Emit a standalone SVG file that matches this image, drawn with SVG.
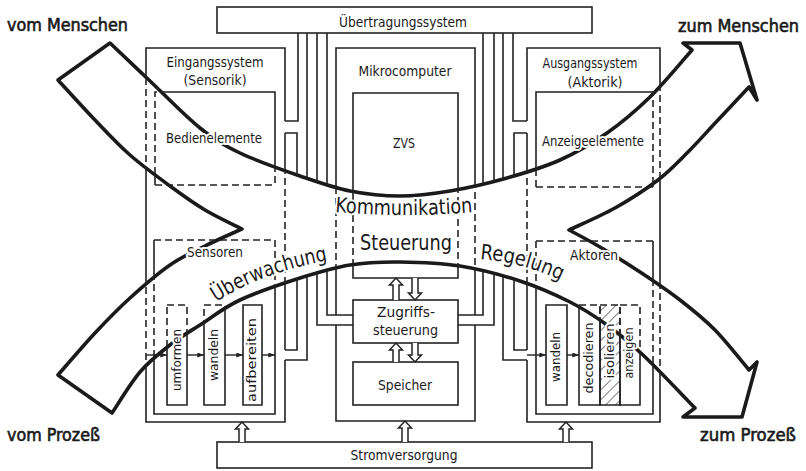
<svg xmlns="http://www.w3.org/2000/svg" width="806" height="471" viewBox="0 0 806 471">
<style>
  .w{fill:none;stroke:#222;stroke-width:1.6}
  .d{stroke-dasharray:7 4}
  .bus{fill:none;stroke:#222;stroke-width:1.6}
  .ho{fill:#fff;stroke:#222;stroke-width:1.5;stroke-linejoin:miter}
  .sm{fill:none;stroke:#222;stroke-width:1.4;marker-end:url(#ah)}
  .flow{fill:none;stroke:#1a1a1a;stroke-width:3.6;stroke-linejoin:round}
  text{font-family:"DejaVu Sans Condensed","Liberation Sans Narrow","Liberation Sans",sans-serif;fill:#1a1a1a;font-size:14px}
  .h{paint-order:stroke;stroke:#fff;stroke-width:4;stroke-linejoin:round}
  .c{text-anchor:middle}
  .big{font-size:21px}
  .corner{font-size:18px;stroke:#1a1a1a;stroke-width:0.6}
  .v{font-size:13px;text-anchor:middle}
</style>
<defs>
  <!-- outline of the two crossing flow arrows (union) -->
  <path id="arrowShape" d="M110,43 C116.7,49.3 135,66.8 150,81 C165,95.2 185,116 200,128 C215,140 223.3,145 240,153 C256.7,161 281.7,169.7 300,176 C318.3,182.3 333.3,187.7 350,191 C366.7,194.3 383.3,196 400,196 C416.7,196 432.2,194 450,191 C467.8,188 488.7,183.2 507,178 C525.3,172.8 543.3,167.5 560,160 C576.7,152.5 592,143.5 607,133 C622,122.5 635.8,110.8 650,97 C664.2,83.2 685,57.8 692,50 L683,43 L740,43 L757,100 L749,87 C743.8,92.5 728.2,109.2 718,120 C707.8,130.8 698,142 688,152 C678,162 670.2,170.7 658,180 C645.8,189.3 629.8,199.7 615,208 C600.2,216.3 576.7,226.3 569,230 C574.2,232.8 588.2,240 600,247 C611.8,254 626.7,263.2 640,272 C653.3,280.8 667.5,290.3 680,300 C692.5,309.7 703.5,318.3 715,330 C726.5,341.7 743.3,363.3 749,370 L757,362 L742,417 L683,417 L695,408 C686.3,399.2 657.7,368.8 643,355 C628.3,341.2 619.2,333.8 607,325 C594.8,316.2 584.5,309.3 570,302 C555.5,294.7 538.3,287 520,281 C501.7,275 480,269.2 460,266 C440,262.8 418.3,262.2 400,262 C381.7,261.8 366.7,262.3 350,265 C333.3,267.7 318.3,272.2 300,278 C281.7,283.8 256.7,292.2 240,300 C223.3,307.8 211.7,317.5 200,325 C188.3,332.5 180,337.2 170,345 C160,352.8 149.7,360.7 140,372 C130.3,383.3 116.7,406.2 112,413 L58,375 C64.2,368 83,345.8 95,333 C107,320.2 117.5,309.3 130,298 C142.5,286.7 157.5,273.7 170,265 C182.5,256.3 193,252 205,246 C217,240 235.8,231.8 242,229 C235.8,225.8 217,217.2 205,210 C193,202.8 182.5,195.2 170,186 C157.5,176.8 142.5,166 130,155 C117.5,144 107,132.5 95,120 C83,107.5 64.2,86.7 58,80 Z"/>
  <clipPath id="inside" clipPathUnits="userSpaceOnUse"><use href="#arrowShape"/></clipPath>
  <mask id="outside" maskUnits="userSpaceOnUse" x="0" y="0" width="806" height="471">
    <rect width="806" height="471" fill="#fff"/>
    <use href="#arrowShape" fill="#000"/>
  </mask>
  <marker id="ah" viewBox="0 0 8 6" refX="8" refY="3" markerWidth="7" markerHeight="5" orient="auto" markerUnits="userSpaceOnUse">
    <path d="M0,0 L8,3 L0,6 Z" fill="#222"/>
  </marker>
  <pattern id="hatch" patternUnits="userSpaceOnUse" width="7" height="7" patternTransform="rotate(45)">
    <line x1="0" y1="0" x2="0" y2="7" stroke="#222" stroke-width="1.2"/>
  </pattern>
  <!-- wall outlines: solid outside the flow arrows, dashed inside -->
  <path id="w-ein" d="M285,121 V48 H146 V422 H285 V360 M285,350 V133"/>
  <path id="w-bed" d="M155,185 V92 H275 V185"/>
  <path id="w-sen" d="M154,240 V414 H275 V240"/>
  <path id="w-umf" d="M167,305 H187 V405 H167 Z"/>
  <path id="w-wanL" d="M204,305 H225 V405 H204 Z"/>
  <path id="w-auf" d="M243,305 H262 V405 H243 Z"/>
  <path id="w-mik" d="M336,315 V48 H475 V315 M475,325 V421 H336 V325"/>
  <path id="w-zvs" d="M353,93 H458 V278 H353 Z"/>
  <path id="w-aus" d="M527,121 V48 H660 V422 H527 V360 M527,350 V133"/>
  <path id="w-anz" d="M536,187 V92 H653 V187"/>
  <path id="w-akt" d="M536,241 V414 H653 V241"/>
  <path id="w-wanR" d="M546,305 H567 V405 H546 Z"/>
  <path id="w-dec" d="M579,305 H600 V405 H579 Z"/>
  <path id="w-iso" d="M600,305 H620 V405 H600 Z"/>
  <path id="w-anzg" d="M620,305 H640 V405 H620 Z"/>
  <path id="tp-ueb" d="M216,302 Q266,270 337,259"/>
  <path id="tp-reg" d="M480,259 Q522,262 562,281"/>
  <path id="tp-kom" d="M335,212 Q404,218 474,212"/>
</defs>

<rect width="806" height="471" fill="#fff"/>

<!-- flow arrows: vom Menschen -> zum Prozess, vom Prozess -> zum Menschen -->
<g id="flow">
  <use href="#arrowShape" class="flow"/>
</g>

<g id="uebertragungssystem">
  <rect class="w" x="217" y="7" width="375" height="26"/>
  <text class="h c" x="403" y="27" font-size="15" textLength="128" lengthAdjust="spacingAndGlyphs">Übertragungssystem</text>
</g>

<g id="stromversorgung">
  <rect class="w" x="217" y="442" width="375" height="26"/>
  <text class="h c" x="404" y="460" font-size="15" textLength="107" lengthAdjust="spacingAndGlyphs">Stromversorgung</text>
</g>

<g id="eingangssystem">
  <use href="#w-ein" class="w" mask="url(#outside)"/>
  <use href="#w-ein" class="w d" clip-path="url(#inside)"/>
  <text class="h c" x="215" y="67" textLength="97" lengthAdjust="spacingAndGlyphs">Eingangssystem</text>
  <text class="h c" x="215" y="85" textLength="63" lengthAdjust="spacingAndGlyphs">(Sensorik)</text>
  <g id="bedienelemente">
    <use href="#w-bed" class="w" mask="url(#outside)"/>
    <use href="#w-bed" class="w d" clip-path="url(#inside)"/>
    <path class="w d" d="M155,185 H275"/>
    <text class="h c" x="214" y="143" textLength="96" lengthAdjust="spacingAndGlyphs">Bedienelemente</text>
  </g>
  <g id="sensoren">
    <use href="#w-sen" class="w" mask="url(#outside)"/>
    <use href="#w-sen" class="w d" clip-path="url(#inside)"/>
    <path class="w d" d="M154,240 H275"/>
    <text class="h c" x="215" y="257" textLength="56" lengthAdjust="spacingAndGlyphs">Sensoren</text>
  </g>
  <g id="umformen">
    <use href="#w-umf" class="w" mask="url(#outside)"/>
    <use href="#w-umf" class="w d" clip-path="url(#inside)"/>
    <text class="h v" transform="translate(181,360) rotate(-90)" textLength="62" lengthAdjust="spacingAndGlyphs">umformen</text>
  </g>
  <g id="wandeln-ein">
    <use href="#w-wanL" class="w" mask="url(#outside)"/>
    <use href="#w-wanL" class="w d" clip-path="url(#inside)"/>
    <text class="h v" transform="translate(218,355) rotate(-90)" textLength="52" lengthAdjust="spacingAndGlyphs">wandeln</text>
  </g>
  <g id="aufbereiten">
    <use href="#w-auf" class="w" mask="url(#outside)"/>
    <use href="#w-auf" class="w d" clip-path="url(#inside)"/>
    <text class="h v" transform="translate(256,360) rotate(-90)" textLength="84" lengthAdjust="spacingAndGlyphs">aufbereiten</text>
  </g>
</g>

<g id="mikrocomputer">
  <use href="#w-mik" class="w" mask="url(#outside)"/>
  <use href="#w-mik" class="w d" clip-path="url(#inside)"/>
  <text class="h c" x="405" y="76" textLength="93" lengthAdjust="spacingAndGlyphs">Mikrocomputer</text>
  <g id="zvs">
    <use href="#w-zvs" class="w" mask="url(#outside)"/>
    <use href="#w-zvs" class="w d" clip-path="url(#inside)"/>
    <text class="h c" x="404" y="148" font-size="15" textLength="22" lengthAdjust="spacingAndGlyphs">ZVS</text>
    <text class="h c big" x="406" y="250" textLength="92" lengthAdjust="spacingAndGlyphs">Steuerung</text>
  </g>
  <g id="zugriffssteuerung">
    <rect class="w" x="353" y="300" width="105" height="43"/>
    <text class="h c" x="406" y="317" textLength="58" lengthAdjust="spacingAndGlyphs">Zugriffs-</text>
    <text class="h c" x="405.5" y="335" textLength="65" lengthAdjust="spacingAndGlyphs">steuerung</text>
  </g>
  <g id="speicher">
    <rect class="w" x="353" y="362" width="105" height="43"/>
    <text class="h c" x="405" y="390" font-size="15" textLength="54" lengthAdjust="spacingAndGlyphs">Speicher</text>
  </g>
</g>

<g id="ausgangssystem">
  <use href="#w-aus" class="w" mask="url(#outside)"/>
  <use href="#w-aus" class="w d" clip-path="url(#inside)"/>
  <text class="h c" x="590" y="68" textLength="95" lengthAdjust="spacingAndGlyphs">Ausgangssystem</text>
  <text class="h c" x="595" y="87" textLength="55" lengthAdjust="spacingAndGlyphs">(Aktorik)</text>
  <g id="anzeigeelemente">
    <use href="#w-anz" class="w" mask="url(#outside)"/>
    <use href="#w-anz" class="w d" clip-path="url(#inside)"/>
    <path class="w d" d="M536,187 H653"/>
    <text class="h c" x="593" y="146" textLength="102" lengthAdjust="spacingAndGlyphs">Anzeigeelemente</text>
  </g>
  <g id="aktoren">
    <use href="#w-akt" class="w" mask="url(#outside)"/>
    <use href="#w-akt" class="w d" clip-path="url(#inside)"/>
    <path class="w d" d="M536,241 H653"/>
    <text class="h c" x="594" y="260" textLength="48" lengthAdjust="spacingAndGlyphs">Aktoren</text>
  </g>
  <g id="wandeln-aus">
    <use href="#w-wanR" class="w" mask="url(#outside)"/>
    <use href="#w-wanR" class="w d" clip-path="url(#inside)"/>
    <text class="h v" transform="translate(560,357) rotate(-90)" textLength="50" lengthAdjust="spacingAndGlyphs">wandeln</text>
  </g>
  <g id="decodieren">
    <use href="#w-dec" class="w" mask="url(#outside)"/>
    <use href="#w-dec" class="w d" clip-path="url(#inside)"/>
    <text class="h v" transform="translate(593,358) rotate(-90)" textLength="71" lengthAdjust="spacingAndGlyphs">decodieren</text>
  </g>
  <g id="isolieren">
    <rect x="600" y="305" width="20" height="100" fill="url(#hatch)"/>
    <use href="#w-iso" class="w" mask="url(#outside)"/>
    <use href="#w-iso" class="w d" clip-path="url(#inside)"/>
    <text class="h v" transform="translate(614,351) rotate(-90)" textLength="55" lengthAdjust="spacingAndGlyphs">isolieren</text>
  </g>
  <g id="anzeigen">
    <use href="#w-anzg" class="w" mask="url(#outside)"/>
    <use href="#w-anzg" class="w d" clip-path="url(#inside)"/>
    <text class="h v" transform="translate(633,353) rotate(-90)" textLength="51" lengthAdjust="spacingAndGlyphs">anzeigen</text>
  </g>
</g>

<g id="connectors">
  <!-- bus lines from the Übertragungssystem -->
  <g class="bus" mask="url(#outside)">
    <path d="M298,33 V121 H285 M285,133 H297 V350 H285 M307,33 V360 H285 M317,33 V325 H353 M327,33 V315 H353"/>
    <path d="M513,33 V121 H527 M527,133 H514 V350 H527 M503,33 V360 H527 M494,33 V325 H458 M483,33 V315 H458"/>
  </g>
  <!-- supply and data transfer arrows -->
  <path class="ho" d="M239,442 V429 H235.5 L242,422 L248.5,429 H245 V442"/>
  <path class="ho" d="M402,442 V428 H398.5 L405,421 L411.5,428 H408 V442"/>
  <path class="ho" d="M563,442 V429 H559.5 L566,422 L572.5,429 H569 V442"/>
  <path class="ho" d="M393,300 V285 H389.5 L396,278 L402.5,285 H399 V300"/>
  <path class="ho" d="M412,278 V293 H408.5 L415,300 L421.5,293 H418 V278"/>
  <path class="ho" d="M393,362 V350 H389.5 L396,343 L402.5,350 H399 V362"/>
  <path class="ho" d="M412,343 V355 H408.5 L415,362 L421.5,355 H418 V343"/>
  <!-- signal chain arrows -->
  <path class="sm" d="M146,355 H167"/>
  <path class="sm" d="M187,355 H204"/>
  <path class="sm" d="M225,355 H243"/>
  <path class="sm" d="M262,355 H275"/>
  <path class="sm" d="M527,355 H546"/>
  <path class="sm" d="M567,355 H579"/>
</g>

<g id="flow-labels">
  <text class="corner" x="7" y="31" textLength="121" lengthAdjust="spacingAndGlyphs">vom Menschen</text>
  <text class="corner" x="678" y="32" textLength="121" lengthAdjust="spacingAndGlyphs">zum Menschen</text>
  <text class="corner" x="7" y="441" textLength="93" lengthAdjust="spacingAndGlyphs">vom Prozeß</text>
  <text class="corner" x="700" y="441" textLength="96" lengthAdjust="spacingAndGlyphs">zum Prozeß</text>
  <text class="h big"><textPath href="#tp-kom" textLength="138" lengthAdjust="spacingAndGlyphs">Kommunikation</textPath></text>
  <text class="h big"><textPath href="#tp-ueb" textLength="120" lengthAdjust="spacingAndGlyphs">Überwachung</textPath></text>
  <text class="h big"><textPath href="#tp-reg" textLength="84" lengthAdjust="spacingAndGlyphs">Regelung</textPath></text>
</g>
</svg>
